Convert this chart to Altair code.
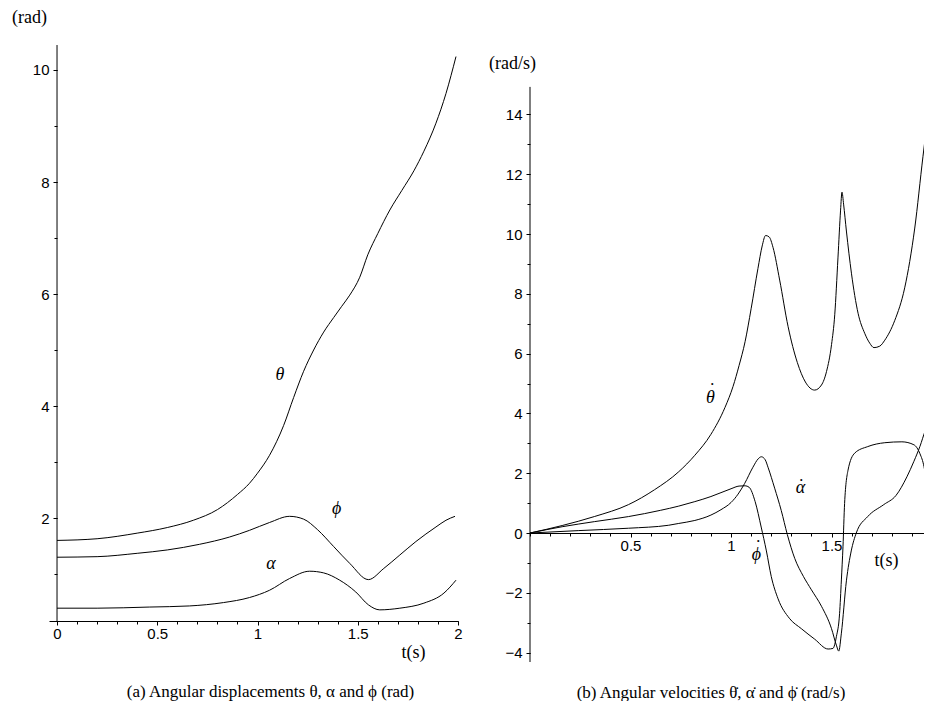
import altair as alt
import pandas as pd

# ---------------- data: panel (a) angular displacements (rad) ----------------
theta_t = [0, 0.2, 0.4, 0.55, 0.68, 0.8, 0.9, 0.96, 1.0, 1.06, 1.13, 1.18, 1.23, 1.28,
           1.33, 1.38, 1.42, 1.46, 1.51, 1.55, 1.6, 1.66, 1.72, 1.78, 1.83, 1.89, 1.94, 1.99]
theta_v = [1.60, 1.63, 1.73, 1.83, 1.96, 2.15, 2.42, 2.62, 2.80, 3.12, 3.65, 4.15, 4.62, 5.00,
           5.32, 5.58, 5.78, 5.98, 6.30, 6.70, 7.08, 7.50, 7.85, 8.20, 8.55, 9.05, 9.58, 10.24]

phi_t = [0, 0.2, 0.4, 0.55, 0.71, 0.86, 0.96, 1.06, 1.16, 1.23, 1.30, 1.38, 1.46, 1.553,
         1.63, 1.71, 1.79, 1.89, 1.94, 1.985]
phi_v = [1.30, 1.31, 1.37, 1.43, 1.53, 1.66, 1.78, 1.92, 2.03, 1.98, 1.79, 1.49, 1.19, 0.90,
         1.10, 1.34, 1.58, 1.84, 1.96, 2.03]

alpha_t = [0, 0.2, 0.46, 0.66, 0.83, 0.96, 1.06, 1.16, 1.26, 1.33, 1.41, 1.49, 1.553, 1.61,
           1.71, 1.83, 1.93, 1.99]
alpha_v = [0.39, 0.39, 0.41, 0.43, 0.49, 0.58, 0.71, 0.92, 1.05, 1.02, 0.89, 0.68, 0.45, 0.36,
           0.39, 0.48, 0.66, 0.89]

# ---------------- data: panel (b) angular velocities (rad/s) ----------------
dtheta_t = [0, 0.16, 0.32, 0.49, 0.62, 0.74, 0.82, 0.90, 0.97, 1.01, 1.04, 1.07, 1.10, 1.134,
            1.155, 1.172, 1.19, 1.209, 1.242, 1.284, 1.33, 1.37, 1.416, 1.45, 1.475, 1.50,
            1.516, 1.532, 1.545, 1.552, 1.56, 1.574, 1.599, 1.632, 1.665, 1.69, 1.711, 1.74,
            1.765, 1.814, 1.864, 1.914, 1.955, 1.99]
dtheta_v = [0, 0.25, 0.55, 0.95, 1.45, 2.05, 2.6, 3.3, 4.2, 4.9, 5.6, 6.4, 7.5, 8.85,
            9.6, 9.95, 9.9, 9.55, 8.46, 6.9, 5.7, 5.05, 4.78, 4.95, 5.4, 6.3,
            7.3, 9.2, 10.8, 11.4, 11.0, 10.1, 8.69, 7.35, 6.68, 6.35, 6.2, 6.25,
            6.45, 7.1, 8.2, 10.2, 12.6, 14.5]

dphi_t = [0, 0.16, 0.32, 0.49, 0.65, 0.74, 0.82, 0.90, 0.95, 1.0, 1.04, 1.07, 1.09, 1.12,
          1.15, 1.176, 1.20, 1.234, 1.29, 1.35, 1.416, 1.483, 1.507, 1.524, 1.54, 1.549,
          1.557, 1.565, 1.582, 1.615, 1.68, 1.765, 1.85, 1.91, 1.94, 1.96, 1.98, 1.997]
dphi_v = [0, 0.21, 0.38, 0.55, 0.76, 0.90, 1.05, 1.22, 1.35, 1.48, 1.57, 1.58, 1.53, 1.05,
          0.2, -0.6, -1.45, -2.2, -2.85, -3.2, -3.55, -3.88, -3.86, -3.47, -2.7, -1.57,
          -0.46, 0.99, 2.1, 2.67, 2.89, 3.02, 3.05, 2.95, 2.65, 2.22, 1.3, 0.32]

dalpha_t = [0, 0.24, 0.49, 0.69, 0.74, 0.82, 0.90, 0.95, 1.0, 1.035, 1.068, 1.109, 1.135,
            1.151, 1.17, 1.184, 1.217, 1.25, 1.28, 1.317, 1.36, 1.40, 1.45, 1.50, 1.524,
            1.536, 1.549, 1.574, 1.598, 1.623, 1.68, 1.76, 1.82, 1.875, 1.91, 1.94, 1.965, 1.99]
dalpha_v = [0, 0.08, 0.16, 0.26, 0.32, 0.42, 0.60, 0.78, 1.02, 1.30, 1.66, 2.20, 2.48,
            2.55, 2.45, 2.2, 1.5, 0.75, -0.05, -0.85, -1.45, -1.9, -2.45, -3.2, -3.75,
            -3.95, -3.35, -1.6, -0.6, 0.0, 0.55, 0.95, 1.25, 1.88, 2.4, 2.9, 3.4, 3.78]

# curve labels
left_labels = ["θ", "ϕ", "α"]
left_label_t = [1.112, 1.395, 1.067]
left_label_v = [4.55, 2.16, 1.17]
right_labels = ["θ", "α", "ϕ"]          # each carries a dot (time derivative)
right_label_t = [0.897, 1.345, 1.126]
right_label_v = [4.5, 1.5, -0.72]
right_dot_tall = [True, False, True]     # dot sits higher over tall glyphs

# axis tick values (major = labelled, minor = small ticks)
left_x_major = [0, 0.5, 1, 1.5, 2]
left_x_minor = [round(i * 0.1, 1) for i in range(21)]
right_x_major = [0.5, 1, 1.5]
right_x_minor = [round(i * 0.1, 1) for i in range(20)]
left_y_major = [2, 4, 6, 8, 10]
left_y_minor = list(range(1, 11))
right_y_major = [-4, -2, 0, 2, 4, 6, 8, 10, 12, 14]
right_y_minor = list(range(-4, 15))

caption_a = "(a) Angular displacements θ, α and ϕ (rad)"
caption_b = "(b) Angular velocities θ̇, α̇ and ϕ̇ (rad/s)"

# ---------------- build frames ----------------
def frame(name, ts, vs):
    return pd.DataFrame({"t": ts, "v": vs, "s": name})

left_df = pd.concat([frame("theta", theta_t, theta_v),
                     frame("phi", phi_t, phi_v),
                     frame("alpha", alpha_t, alpha_v)], ignore_index=True)
right_df = pd.concat([frame("dtheta", dtheta_t, dtheta_v),
                      frame("dphi", dphi_t, dphi_v),
                      frame("dalpha", dalpha_t, dalpha_v)], ignore_index=True)
left_lab_df = pd.DataFrame({"t": left_label_t, "v": left_label_v, "lab": left_labels})
right_lab_df = pd.DataFrame({"t": right_label_t, "v": right_label_v, "lab": right_labels,
                             "tall": right_dot_tall})

TICK_FONT = "Liberation Sans"
SERIF = "Liberation Serif"

# pixel geometry (plot areas)
LW, RW, H = 409, 394, 654
left_x_dom = [-0.04, 2.0]
right_x_dom = [0, 1.96]
left_y_dom = [-0.571, 11.107]
right_y_dom = [-4.314, 17.559]

COMMON = dict(tickColor="black", grid=False, labelOverlap=False)


def x_major(values, offset, title_x, title_y):
    return alt.Axis(values=values, format="~r", orient="bottom", offset=offset, tickSize=4,
                    labelPadding=1, labelFont=TICK_FONT, labelFontSize=15, labelColor="black",
                    domainColor="black", labelFlush=False,
                    title="t(s)", titleFont=SERIF, titleFontSize=18, titleFontWeight="normal",
                    titleColor="black", titleX=title_x, titleY=title_y, titleAlign="center",
                    titleBaseline="middle", **COMMON)


def x_minor(values, offset):
    return alt.Axis(values=values, orient="bottom", offset=offset, tickSize=3, labels=False,
                    domain=False, title=None, **COMMON)


def y_major(values, offset, title, title_x, title_y):
    return alt.Axis(values=values, format="~r", orient="left", offset=offset, domain=False,
                    tickSize=4, labelPadding=4, labelFont=TICK_FONT, labelFontSize=15,
                    labelColor="black",
                    title=title, titleFont=SERIF, titleFontSize=18, titleFontWeight="normal",
                    titleColor="black", titleAngle=0, titleX=title_x, titleY=title_y,
                    titleAlign="center", titleBaseline="middle", **COMMON)


def y_minor(values, offset):
    return alt.Axis(values=values, orient="left", offset=offset, tickSize=3, labels=False,
                    domain=False, title=None, **COMMON)


def panel(df, lab_df, x_dom, y_dom, xa_major, xa_minor, ya_major, ya_minor, rule_lo, rule_hi,
          width, caption, cap_dx, dotted):
    xs = alt.Scale(domain=x_dom, nice=False, zero=False)
    ys = alt.Scale(domain=y_dom, nice=False, zero=False)
    lines = alt.Chart(df).mark_line(color="black", strokeWidth=1, clip=True,
                                    interpolate="monotone").encode(
        x=alt.X("t:Q", scale=xs, axis=xa_major),
        y=alt.Y("v:Q", scale=ys, axis=ya_major),
        detail="s:N", order="t:Q")
    rule = alt.Chart(pd.DataFrame({"t": [0], "lo": [rule_lo], "hi": [rule_hi]})).mark_rule(
        color="black", strokeWidth=1).encode(
        x=alt.X("t:Q", scale=xs, axis=xa_minor),
        y=alt.Y("lo:Q", scale=ys, axis=ya_minor),
        y2="hi:Q")
    base = alt.Chart(lab_df)
    txt = base.mark_text(font=SERIF, fontStyle="italic", fontSize=18, color="black").encode(
        x=alt.X("t:Q", scale=xs, axis=None), y=alt.Y("v:Q", scale=ys, axis=None),
        text="lab:N")
    layers = [lines, rule, txt]
    if dotted:
        for cond, dx, dy in (("datum.tall", 2, -7), ("!datum.tall", 1, -1)):
            layers.append(base.transform_filter(cond).mark_text(
                font=SERIF, fontSize=18, color="black", dx=dx, dy=dy).encode(
                x=alt.X("t:Q", scale=xs, axis=None), y=alt.Y("v:Q", scale=ys, axis=None),
                text=alt.value("˙")))
    return alt.layer(*layers).resolve_axis(x="independent", y="independent").properties(
        width=width, height=H,
        title=alt.TitleParams(caption, orient="bottom", anchor="middle", font=SERIF,
                              fontSize=17, fontWeight="normal", color="black", offset=22,
                              dx=cap_dx))


left = panel(left_df, left_lab_df, left_x_dom, left_y_dom,
             x_major(left_x_major, -41, 364, 31), x_minor(left_x_minor, -41),
             y_major(left_y_major, -8, "(rad)", -28, 9), y_minor(left_y_minor, -8),
             0.16, 10.446, LW, caption_a, 17, False)

right = panel(right_df, right_lab_df, right_x_dom, right_y_dom,
              x_major(right_x_major, -129, 356, 27), x_minor(right_x_minor, -129),
              y_major(right_y_major, 0, "(rad/s)", -18, 55), y_minor(right_y_minor, 0),
              -4.314, 14.92, RW, caption_b, -16, True)

chart = alt.hconcat(left, right, spacing=25).properties(
    padding={"left": 3, "top": 0, "right": 0, "bottom": 0},
    background="white",
).configure_view(stroke=None)

chart.save("out.html", embed_options={"renderer": "svg", "actions": False})
